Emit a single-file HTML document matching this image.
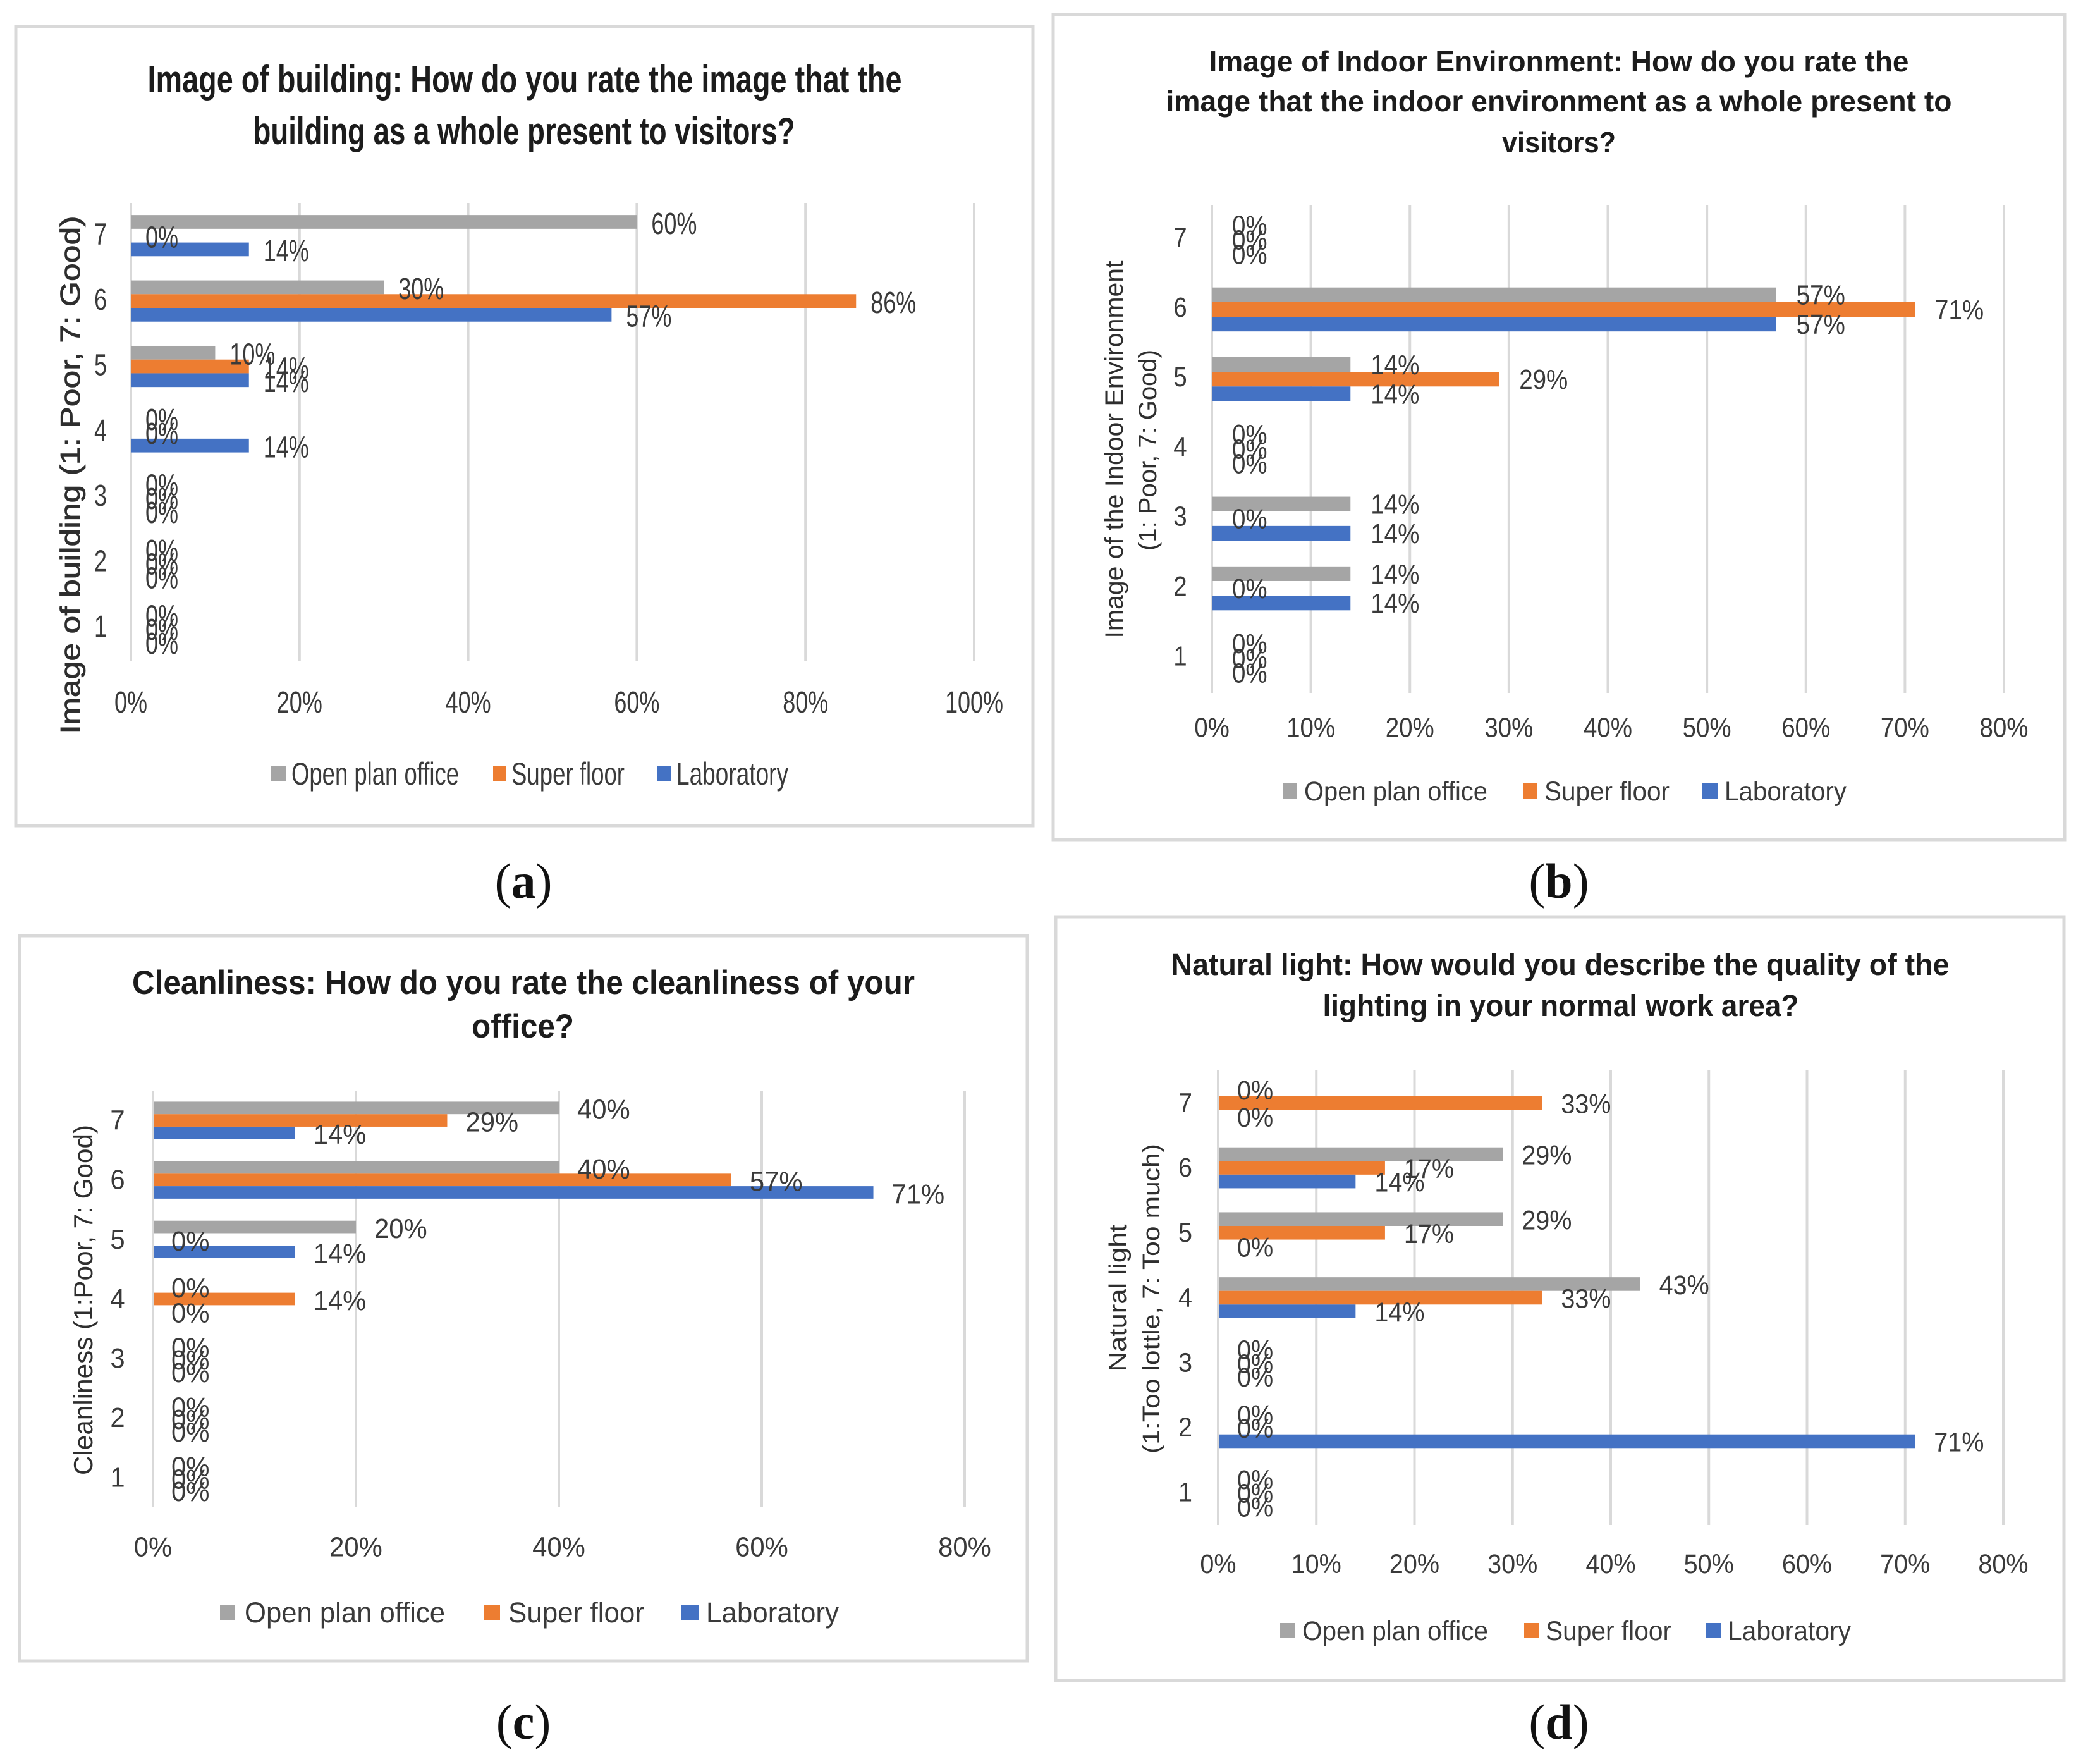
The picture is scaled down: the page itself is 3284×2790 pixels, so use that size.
<!DOCTYPE html>
<html lang="en">
<head>
<meta charset="utf-8">
<title>Survey ratings by workspace type</title>
<style>
html,body{margin:0;padding:0;background:#fff;}
svg{display:block;font-family:"Liberation Sans",sans-serif;}
.frame{fill:#fff;stroke:#d9d9d9;stroke-width:5;}
.title{font-weight:700;fill:#1c1c1c;text-anchor:middle;}
.ytitle{fill:#2e2e2e;text-anchor:middle;}
.leg{fill:#3a3a3a;}
.cap{font-family:"Liberation Serif",serif;font-size:78px;fill:#111;text-anchor:middle;}
</style>
</head>
<body>
<svg id="figure" xmlns="http://www.w3.org/2000/svg" width="3284" height="2790" viewBox="0 0 3284 2790">
<rect width="3284" height="2790" fill="#fff"/>

<g id="panel-a">
  <rect class="frame" x="25" y="42" width="1609" height="1264"/>
  <text class="title" x="830" y="146" font-size="60" textLength="1193" lengthAdjust="spacingAndGlyphs">Image of building: How do you rate the image that the</text>
  <text class="title" x="829" y="228" font-size="60" textLength="857" lengthAdjust="spacingAndGlyphs">building as a whole present to visitors?</text>
  <text class="ytitle" stroke="#2e2e2e" stroke-width="0.8" transform="translate(126,751) rotate(-90)" font-size="44" textLength="819" lengthAdjust="spacingAndGlyphs">Image of building (1: Poor, 7: Good)</text>
  <g>
    <rect x="428" y="1212" width="25" height="24" fill="#a5a5a5"/>
    <text class="leg" x="461" y="1241" font-size="50" textLength="265" lengthAdjust="spacingAndGlyphs">Open plan office</text>
    <rect x="780" y="1212" width="21" height="24" fill="#ed7d31"/>
    <text class="leg" x="809" y="1241" font-size="50" textLength="179" lengthAdjust="spacingAndGlyphs">Super floor</text>
    <rect x="1040" y="1212" width="21" height="24" fill="#4472c4"/>
    <text class="leg" x="1070" y="1241" font-size="50" textLength="177" lengthAdjust="spacingAndGlyphs">Laboratory</text>
  </g>
</g>
<text class="cap" x="828" y="1420">(<tspan font-weight="700">a</tspan>)</text>

<g id="panel-b">
  <rect class="frame" x="1666" y="23" width="1600" height="1305"/>
  <text class="title" x="2466" y="113" font-size="46" textLength="1107" lengthAdjust="spacingAndGlyphs">Image of Indoor Environment: How do you rate the</text>
  <text class="title" x="2466" y="176" font-size="46" textLength="1243" lengthAdjust="spacingAndGlyphs">image that the indoor environment as a whole present to</text>
  <text class="title" x="2466" y="241" font-size="46" textLength="180" lengthAdjust="spacingAndGlyphs">visitors?</text>
  <text class="ytitle" transform="translate(1776,711) rotate(-90)" font-size="40" textLength="597" lengthAdjust="spacingAndGlyphs">Image of the Indoor Environment</text>
  <text class="ytitle" transform="translate(1829,712) rotate(-90)" font-size="40" textLength="318" lengthAdjust="spacingAndGlyphs">(1: Poor, 7: Good)</text>
  <g>
    <rect x="2030" y="1239" width="22" height="24" fill="#a5a5a5"/>
    <text class="leg" x="2063" y="1266" font-size="43" textLength="290" lengthAdjust="spacingAndGlyphs">Open plan office</text>
    <rect x="2409" y="1239" width="23" height="24" fill="#ed7d31"/>
    <text class="leg" x="2443" y="1266" font-size="43" textLength="198" lengthAdjust="spacingAndGlyphs">Super floor</text>
    <rect x="2692" y="1239" width="26" height="24" fill="#4472c4"/>
    <text class="leg" x="2728" y="1266" font-size="43" textLength="193" lengthAdjust="spacingAndGlyphs">Laboratory</text>
  </g>
</g>
<text class="cap" x="2466" y="1420">(<tspan font-weight="700">b</tspan>)</text>

<g id="panel-c">
  <rect class="frame" x="31" y="1480" width="1594" height="1147"/>
  <text class="title" x="828" y="1572" font-size="53" textLength="1238" lengthAdjust="spacingAndGlyphs">Cleanliness: How do you rate the cleanliness of your</text>
  <text class="title" x="827" y="1641" font-size="53" textLength="162" lengthAdjust="spacingAndGlyphs">office?</text>
  <text class="ytitle" transform="translate(146,2056) rotate(-90)" font-size="42" textLength="554" lengthAdjust="spacingAndGlyphs">Cleanliness (1:Poor, 7: Good)</text>
  <g>
    <rect x="348" y="2539" width="24" height="24" fill="#a5a5a5"/>
    <text class="leg" x="387" y="2566" font-size="45" textLength="317" lengthAdjust="spacingAndGlyphs">Open plan office</text>
    <rect x="765" y="2539" width="26" height="24" fill="#ed7d31"/>
    <text class="leg" x="804" y="2566" font-size="45" textLength="215" lengthAdjust="spacingAndGlyphs">Super floor</text>
    <rect x="1078" y="2539" width="27" height="24" fill="#4472c4"/>
    <text class="leg" x="1117" y="2566" font-size="45" textLength="210" lengthAdjust="spacingAndGlyphs">Laboratory</text>
  </g>
</g>
<text class="cap" x="828" y="2750">(<tspan font-weight="700">c</tspan>)</text>

<g id="panel-d">
  <rect class="frame" x="1670" y="1450" width="1595" height="1208"/>
  <text class="title" x="2468" y="1542" font-size="48" textLength="1231" lengthAdjust="spacingAndGlyphs">Natural light: How would you describe the quality of the</text>
  <text class="title" x="2469" y="1607" font-size="48" textLength="753" lengthAdjust="spacingAndGlyphs">lighting in your normal work area?</text>
  <text class="ytitle" transform="translate(1781,2053) rotate(-90)" font-size="38" textLength="233" lengthAdjust="spacingAndGlyphs">Natural light</text>
  <text class="ytitle" transform="translate(1834,2054) rotate(-90)" font-size="38" textLength="490" lengthAdjust="spacingAndGlyphs">(1:Too lottle, 7: Too much)</text>
  <g>
    <rect x="2025" y="2567" width="24" height="24" fill="#a5a5a5"/>
    <text class="leg" x="2060" y="2594" font-size="43" textLength="294" lengthAdjust="spacingAndGlyphs">Open plan office</text>
    <rect x="2411" y="2567" width="24" height="24" fill="#ed7d31"/>
    <text class="leg" x="2445" y="2594" font-size="43" textLength="199" lengthAdjust="spacingAndGlyphs">Super floor</text>
    <rect x="2698" y="2567" width="24" height="24" fill="#4472c4"/>
    <text class="leg" x="2733" y="2594" font-size="43" textLength="195" lengthAdjust="spacingAndGlyphs">Laboratory</text>
  </g>
</g>
<text class="cap" x="2466" y="2750">(<tspan font-weight="700">d</tspan>)</text>
</svg>

<script>
// Categories, top to bottom
const categories = [7, 6, 5, 4, 3, 2, 1];

// Axis ticks, in percent
const ticksA = [0, 20, 40, 60, 80, 100];
const ticksB = [0, 10, 20, 30, 40, 50, 60, 70, 80];
const ticksC = [0, 20, 40, 60, 80];
const ticksD = [0, 10, 20, 30, 40, 50, 60, 70, 80];

// Series values in percent, same order as categories
const openPlanA   = [60, 30, 10, 0, 0, 0, 0];
const superFloorA = [0, 86, 14, 0, 0, 0, 0];
const laboratoryA = [14, 57, 14, 14, 0, 0, 0];

const openPlanB   = [0, 57, 14, 0, 14, 14, 0];
const superFloorB = [0, 71, 29, 0, 0, 0, 0];
const laboratoryB = [0, 57, 14, 0, 14, 14, 0];

const openPlanC   = [40, 40, 20, 0, 0, 0, 0];
const superFloorC = [29, 57, 0, 14, 0, 0, 0];
const laboratoryC = [14, 71, 14, 0, 0, 0, 0];

const openPlanD   = [0, 29, 29, 43, 0, 0, 0];
const superFloorD = [33, 17, 17, 33, 0, 0, 0];
const laboratoryD = [0, 14, 0, 14, 0, 71, 0];

const NS = 'http://www.w3.org/2000/svg';

function makeRect(parent, x, y, w, h, fill) {
  const el = document.createElementNS(NS, 'rect');
  el.setAttribute('x', x);
  el.setAttribute('y', y);
  el.setAttribute('width', w);
  el.setAttribute('height', h);
  el.setAttribute('fill', fill);
  parent.appendChild(el);
  return el;
}

function makeText(parent, str, x, y, size, sx, anchor) {
  const el = document.createElementNS(NS, 'text');
  el.setAttribute('transform', 'translate(' + x + ',' + (y + size * 0.35) + ') scale(' + sx + ',1)');
  el.setAttribute('font-size', size);
  el.setAttribute('fill', '#3a3a3a');
  el.setAttribute('text-anchor', anchor);
  el.textContent = str;
  parent.appendChild(el);
  return el;
}

function drawPanel(id, layout, ticks, gray, orange, blue) {
  const root = document.getElementById(id);
  const maxTick = ticks[ticks.length - 1];
  const xScale = function (v) { return layout.x0 + (layout.x1 - layout.x0) * v / maxTick; };
  const band = (layout.bottom - layout.top) / categories.length;
  const catCenter = function (i) { return layout.top + band * (i + 0.5); };
  const barH = band * 0.21;

  ticks.forEach(function (t) {
    const grid = makeRect(root, xScale(t) - 2, layout.top, 4, layout.bottom - layout.top, '#d9d9d9');
    
    
    const tick = makeText(root, t + '%', xScale(t), layout.tickY, layout.fs, layout.sx, 'middle');
    
    
  });

  categories.forEach(function (c, i) {
    const cat = makeText(root, String(c), layout.catX, catCenter(i) + layout.catDy, layout.fs, layout.sx, 'middle');
    
    
  });

  const rows = [[gray, '#a5a5a5', -1], [orange, '#ed7d31', 0], [blue, '#4472c4', 1]];
  rows.forEach(function (row) {
    row[0].forEach(function (v, i) {
      const cy = catCenter(i) + row[2] * barH;
      if (v > 0) {
        const bar = makeRect(root, layout.x0 + 1, cy - barH / 2, xScale(v) - layout.x0 - 1, barH, row[1]);
        
        
      }
    });
  });
  rows.forEach(function (row) {
    row[0].forEach(function (v, i) {
      const cy = catCenter(i) + row[2] * barH;
      const lab = makeText(root, v + '%', xScale(v) + layout.off, cy + layout.labDy, layout.fs, layout.sx, 'start');
      
      
    });
  });
}

drawPanel('panel-a', {x0: 207, x1: 1541, top: 321, bottom: 1045, catX: 159, tickY: 1110, fs: 48, sx: 0.75, off: 23, catDy: -3, labDy: 2},
  ticksA, openPlanA, superFloorA, laboratoryA);
drawPanel('panel-b', {x0: 1917, x1: 3170, top: 324, bottom: 1096, catX: 1867, tickY: 1150, fs: 44, sx: 0.875, off: 32, catDy: -4, labDy: 0},
  ticksB, openPlanB, superFloorB, laboratoryB);
drawPanel('panel-c', {x0: 242, x1: 1526, top: 1725, bottom: 2384, catX: 186, tickY: 2446, fs: 44, sx: 0.95, off: 29, catDy: -1, labDy: 2},
  ticksC, openPlanC, superFloorC, laboratoryC);
drawPanel('panel-d', {x0: 1927, x1: 3169, top: 1693, bottom: 2412, catX: 1875, tickY: 2473, fs: 43, sx: 0.92, off: 30, catDy: -1, labDy: 1},
  ticksD, openPlanD, superFloorD, laboratoryD);
</script>
</body>
</html>
